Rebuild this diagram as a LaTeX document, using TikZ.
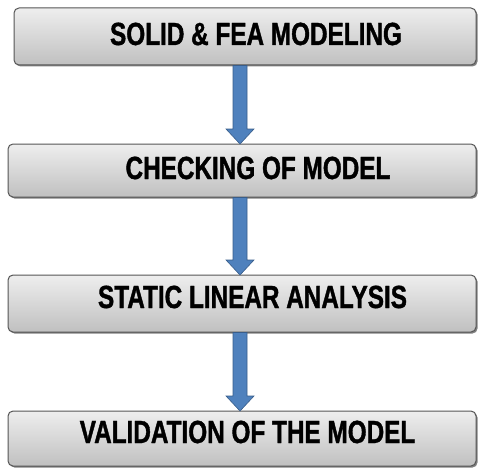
\documentclass[tikz,border=0pt]{standalone}
\usepackage{fontspec}
\setmainfont[FakeStretch=0.76,FakeBold=1.2]{Liberation Sans}
\usetikzlibrary{shadows,calc}
\definecolor{arrowblue}{RGB}{79,129,189}
\definecolor{arrowedge}{RGB}{56,93,138}
\definecolor{boxedge}{RGB}{85,85,85}
\definecolor{boxtop}{RGB}{238,238,238}
\definecolor{boxbottom}{RGB}{192,192,192}
\begin{document}
\begin{tikzpicture}[x=1pt,y=-1pt,
  stepbox/.style={draw=boxedge, line width=1pt, rounded corners=5pt,
    top color=boxtop, bottom color=boxbottom,
    drop shadow={shadow xshift=1.5pt, shadow yshift=-1.5pt, fill=black!70, opacity=0.7},
    inner sep=0pt, outer sep=0pt},
  steptext/.style={anchor=base, inner sep=0pt, font=\bfseries\fontsize{32}{34}\selectfont, text=black},
  blockarrow/.style={fill=arrowblue, draw=arrowedge, line width=0.6pt}]
\useasboundingbox (0,0) rectangle (478,468);
\coordinate (ax) at (240,0);
\node[stepbox, minimum width=462pt, minimum height=57pt] (b1) at (245,36.5) {};
\node[stepbox, minimum width=468pt, minimum height=53pt] (b2) at (242,170.5) {};
\node[stepbox, minimum width=468pt, minimum height=57pt] (b3) at (242,303.5) {};
\node[stepbox, minimum width=468pt, minimum height=55pt] (b4) at (242,438.5) {};
\node[steptext] (t1) at (256,45) {SOLID \& FEA MODELING};
\node[steptext] (t2) at (258,179) {CHECKING OF MODEL};
\node[steptext] (t3) at (252.5,308) {STATIC LINEAR ANALYSIS};
\node[steptext] (t4) at (247.5,443) {VALIDATION OF THE MODEL};
\foreach \a/\b in {b1/b2, b2/b3, b3/b4}{
  \draw[blockarrow] let \p1=(\a.south -| ax), \p2=(\b.north -| ax) in
    (\x1-7pt,\y1-0.5pt) -- (\x1-7pt,\y2+15pt) -- (\x1-14pt,\y2+15pt) -- (\x2,\y2) --
    (\x1+14pt,\y2+15pt) -- (\x1+7pt,\y2+15pt) -- (\x1+7pt,\y1-0.5pt) -- cycle;
}
\end{tikzpicture}
\end{document}
